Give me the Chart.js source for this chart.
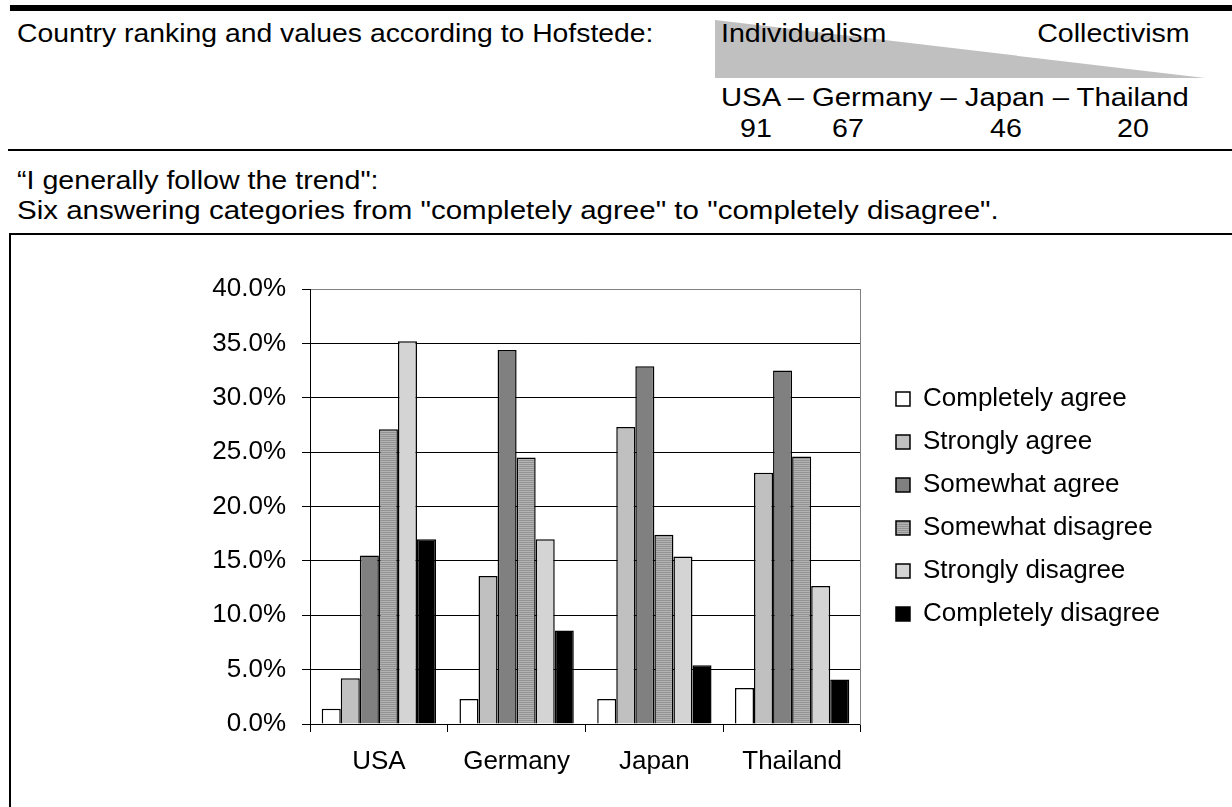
<!DOCTYPE html>
<html>
<head>
<meta charset="utf-8">
<script src="https://cdn.jsdelivr.net/npm/chart.js@4.4.1/dist/chart.umd.min.js"></script>
<style>
	html, body { margin: 0; padding: 0; background: #fff; }
	#page { position: relative; width: 1232px; height: 807px; overflow: hidden; font-family: "Liberation Sans", Arial, sans-serif; color: #000; }
	.txt { position: absolute; font-size: 26px; line-height: 26px; white-space: nowrap; transform: scaleX(1.1); transform-origin: 0 0; }
	.txt.right { transform-origin: 100% 0; }
	#topBar { position: absolute; left: 10px; top: 5px; width: 1222px; height: 6px; background: #000; }
	#midLine { position: absolute; left: 8px; top: 149px; width: 1224px; height: 2px; background: #000; }
	#wedge { position: absolute; left: 0; top: 0; }
	#frame { position: absolute; left: 9px; top: 233px; width: 1240px; height: 600px; border-top: 2px solid #000; border-left: 2px solid #000; }
	/* canvas starts off-page on the left so the legend gets enough layout width */
	#chartBox { position: absolute; left: -700px; top: 235px; width: 1932px; height: 572px; }
</style>
</head>
<body>
<div id="page">
	<div id="topBar"></div>
	<svg id="wedge" width="1232" height="100"><polygon points="715,20 715,78 1205,78" fill="#c0c0c0"/></svg>
	<div class="txt" style="left:17px; top:20px; transform:scaleX(1.09);">Country ranking and values according to Hofstede:</div>
	<div class="txt" style="left:721px; top:20px;">Individualism</div>
	<div class="txt right" style="right:42px; top:20px;">Collectivism</div>
	<div class="txt" style="left:721px; top:84px; transform:scaleX(1.125);">USA – Germany – Japan – Thailand</div>
	<div class="txt" style="left:740px; top:115px;">91</div>
	<div class="txt" style="left:832px; top:115px;">67</div>
	<div class="txt" style="left:990px; top:115px;">46</div>
	<div class="txt" style="left:1117px; top:115px;">20</div>
	<div id="midLine"></div>
	<div class="txt" style="left:17px; top:167px;">“I generally follow the trend":</div>
	<div class="txt" style="left:17px; top:197px; transform:scaleX(1.135);">Six answering categories from "completely agree" to "completely disagree".</div>
	<div id="frame"></div>
	<div id="chartBox"><canvas id="chart"></canvas></div>
</div>
<script>
// categories and answer shares (%) per country
const countries = ['USA', 'Germany', 'Japan', 'Thailand'];
const answerLabels = ['Completely agree', 'Strongly agree', 'Somewhat agree', 'Somewhat disagree', 'Strongly disagree', 'Completely disagree'];
const completelyAgree = [1.4, 2.3, 2.3, 3.3];
const stronglyAgree = [4.2, 13.6, 27.3, 23.1];
const somewhatAgree = [15.5, 34.4, 32.9, 32.5];
const somewhatDisagree = [27.1, 24.5, 17.4, 24.6];
const stronglyDisagree = [35.2, 17.0, 15.4, 12.7];
const completelyDisagree = [17.0, 8.6, 5.4, 4.1];
const yMin = 0;
const yMax = 40;
const yStep = 5;

Chart.defaults.font.family = '"Liberation Sans", Arial, sans-serif';
Chart.defaults.color = '#000';

// fine horizontal hatch used for "Somewhat disagree"
let createHatch = () => {
	let c = document.createElement('canvas');
	c.width = 4;
	c.height = 2;
	let x = c.getContext('2d');
	x.fillStyle = '#b3b3b3';
	x.fillRect(0, 0, 4, 1);
	x.fillStyle = '#939393';
	x.fillRect(0, 1, 4, 1);
	return x.createPattern(c, 'repeat');
};

let seriesValues = [completelyAgree, stronglyAgree, somewhatAgree, somewhatDisagree, stronglyDisagree, completelyDisagree];
let seriesColors = ['#ffffff', '#c0c0c0', '#808080', createHatch(), '#d4d4d4', '#000000'];

let datasets = answerLabels.map((label, i) => ({
	label,
	data: seriesValues[i],
	backgroundColor: seriesColors[i],
	borderColor: '#000',
	borderWidth: 1.5,
	borderSkipped: 'bottom',
	categoryPercentage: 0.83,
	barPercentage: 1,
}));

new Chart(document.getElementById('chart'), {
	type: 'bar',
	data: { labels: countries, datasets },
	options: {
		responsive: true,
		maintainAspectRatio: false,
		animation: false,
		layout: { padding: { top: 54, left: 0, right: 62, bottom: 0 } },
		plugins: {
			tooltip: { enabled: false },
			legend: {
				position: 'right',
				fullSize: false,
				labels: {
					boxWidth: 14,
					boxHeight: 14,
					padding: 17,
					color: '#000',
					font: { size: 26 },
				},
			},
		},
		scales: {
			x: {
				grid: { display: true, drawOnChartArea: false, offset: true, color: '#000', tickLength: 8 },
				border: { display: true, color: '#000', width: 1 },
				ticks: { font: { size: 26 }, color: '#000', padding: 14 },
				afterFit: (s) => { s.height = 83; },
			},
			y: {
				min: yMin,
				max: yMax,
				ticks: {
					stepSize: yStep,
					font: { size: 26 },
					color: '#000',
					padding: 16,
					callback: (v) => v.toFixed(1) + '%',
				},
				grid: {
					color: (ctx) => (ctx.tick && ctx.tick.value === yMax ? '#808080' : '#000'),
					tickColor: '#000',
					tickLength: 8,
					lineWidth: 1,
				},
				border: { display: true, color: '#000', width: 1 },
				afterFit: (s) => { s.width = 1010; },
			},
			// right edge of the plot frame plus the gap before the legend
			yRight: {
				position: 'right',
				min: yMin,
				max: yMax,
				grid: { display: false },
				ticks: { display: false },
				border: { display: true, color: '#808080', width: 1 },
				afterFit: (s) => { s.width = 18; },
			},
		},
	},
});
</script>
</body>
</html>
